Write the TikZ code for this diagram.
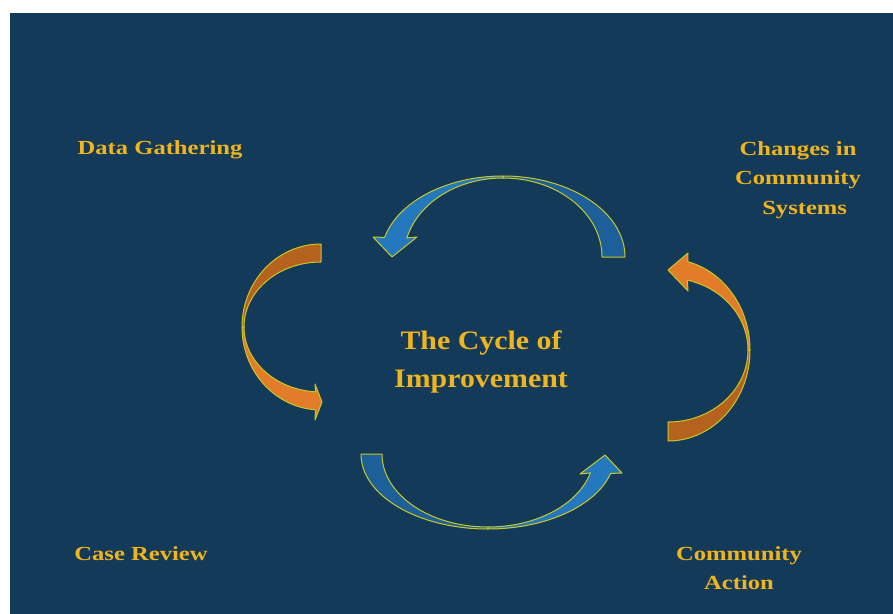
\documentclass[tikz,border=0pt]{standalone}
\usepackage{fontspec}
\usepackage{xcolor}
\usetikzlibrary{calc}

\newfontfamily\sidefont[FakeStretch=1.23]{Liberation Serif}
\newfontfamily\titlefont[FakeStretch=1.12]{Liberation Serif}

\definecolor{navy}{HTML}{143A59}
\definecolor{gold}{HTML}{F0B41C}
\definecolor{bluelight}{HTML}{2478BD}
\definecolor{bluedark}{HTML}{1D5F99}
\definecolor{orangelight}{HTML}{E27C29}
\definecolor{orangedark}{HTML}{B6621F}
\definecolor{rim}{HTML}{C9C823}

\begin{document}
\begin{tikzpicture}[x=0.75pt,y=-0.75pt,
    steptext/.style={text=gold, inner sep=0pt, align=center,
        font=\sidefont\bfseries\fontsize{15}{22}\selectfont},
    rimline/.style={draw=rim, line width=0.75pt, line join=round}]

    % Draw the page and the dark background
    \useasboundingbox (0,0) rectangle (893,614);
    \fill[navy] (10,13) rectangle (893,614);

    % Draw the top arrow
    \draw[rimline, fill=bluedark] (625,257) arc[start angle=0, end angle=-90, x radius=122, y radius=81]
        -- ($(503,257)+(-90:99 and 79)$) arc[start angle=-90, end angle=0, x radius=99, y radius=79] -- cycle;
    \draw[rimline, fill=bluelight] ($(503,257)+(-90:122 and 81)$) arc[start angle=-90, end angle=-166, x radius=122, y radius=81]
        -- (373,237) -- (392,257) -- (417,237)
        -- ($(503,257)+(-166:99 and 79)$) arc[start angle=-166, end angle=-90, x radius=99, y radius=79] -- cycle;

    % Draw the bottom arrow
    \draw[rimline, fill=bluedark] (361,454) arc[start angle=180, end angle=90, x radius=127, y radius=75]
        -- ($(488,454)+(90:106 and 73)$) arc[start angle=90, end angle=180, x radius=106, y radius=73] -- cycle;
    \draw[rimline, fill=bluelight] ($(488,454)+(90:127 and 75)$) arc[start angle=90, end angle=15, x radius=127, y radius=75]
        -- (622,473) -- (605,455) -- (580,474)
        -- ($(488,454)+(15:106 and 73)$) arc[start angle=15, end angle=90, x radius=106, y radius=73] -- cycle;

    % Draw the left arrow
    \draw[rimline, fill=orangedark] (321,244) arc[start angle=-90, end angle=-180, x radius=79, y radius=83]
        -- ($(321,327)+(-180:77 and 65)$) arc[start angle=-180, end angle=-90, x radius=77, y radius=65] -- cycle;
    \draw[rimline, fill=orangelight] ($(321,327)+(-180:79 and 83)$) arc[start angle=-180, end angle=-266, x radius=79, y radius=83]
        -- (315,420) -- (322,402) -- (315,384)
        -- ($(321,327)+(-266:77 and 65)$) arc[start angle=-266, end angle=-180, x radius=77, y radius=65] -- cycle;

    % Draw the right arrow
    \draw[rimline, fill=orangedark] (668,441) arc[start angle=90, end angle=0, x radius=82, y radius=91]
        -- ($(668,350)+(0:80 and 72)$) arc[start angle=0, end angle=90, x radius=80, y radius=72] -- cycle;
    \draw[rimline, fill=orangelight] ($(668,350)+(0:82 and 91)$) arc[start angle=0, end angle=-76, x radius=82, y radius=91]
        -- (688,253) -- (668,270) -- (688,291)
        -- ($(668,350)+(-76:80 and 72)$) arc[start angle=-76, end angle=0, x radius=80, y radius=72] -- cycle;

    % Label the stages
    \node[steptext, anchor=base] (gather) at (160,154) {Data Gathering};
    \node[steptext] (changes) at (798,180) {Changes in\\Community\\\hspace*{10pt}Systems};
    \node[steptext, anchor=base] (review) at (141,560) {Case Review};
    \node[steptext] (action) at (739,568) {Community\\Action};

    % Label the middle
    \node[steptext, font=\titlefont\bfseries\fontsize{20}{29}\selectfont] (cycle) at (481,362) {The Cycle of\\Improvement};
\end{tikzpicture}
\end{document}
